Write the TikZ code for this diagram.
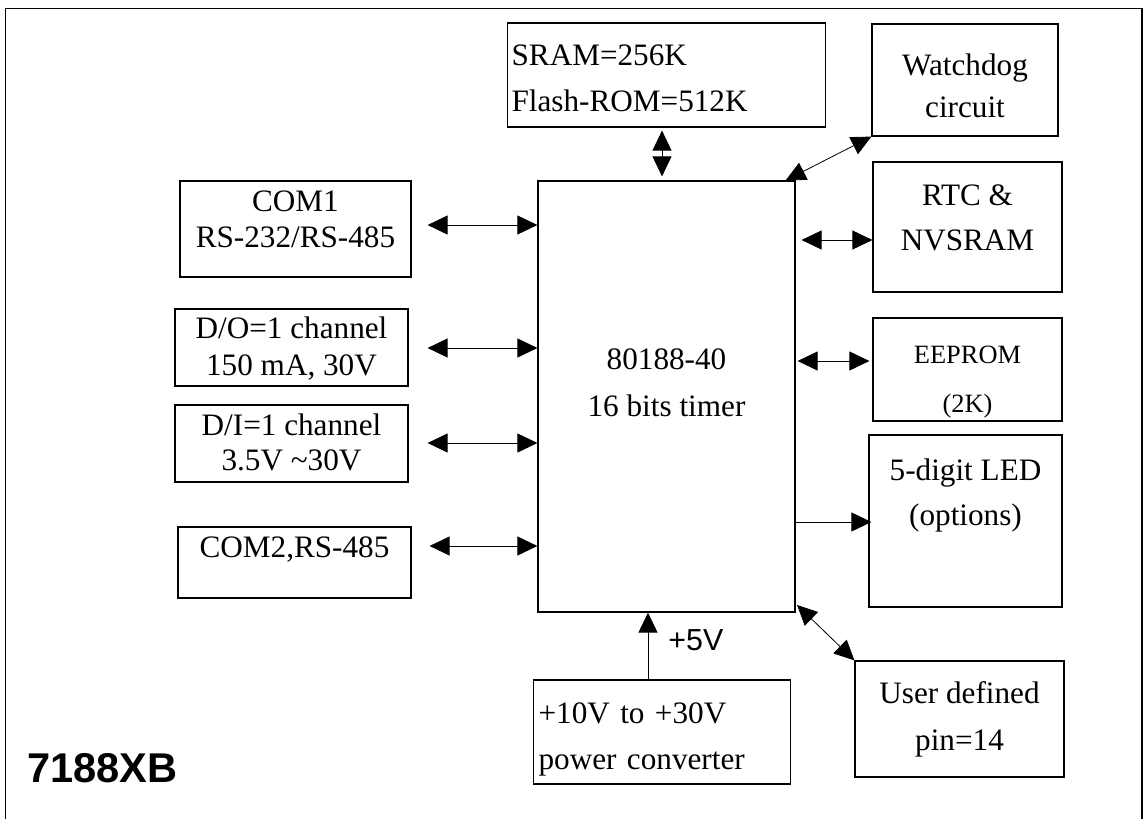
\documentclass[tikz,border=0pt]{standalone}
\usepackage{fontspec}
\setmainfont{Liberation Serif}
\newfontfamily\arialfont{Liberation Sans}
\usetikzlibrary{arrows.meta}
\newcommand{\boxfont}[1]{\fontsize{15.6}{#1}\selectfont}

\begin{document}
\begin{tikzpicture}[x=0.5pt, y=-0.5pt,
        block/.style={draw, line width=0.6pt, inner ysep=0pt, align=center, anchor=base},
        leftblock/.style={draw, line width=0.6pt, inner ysep=0pt, align=left, anchor=base west},
        >={Triangle[length=10pt, width=9.5pt]}
    ]
        \useasboundingbox (0,0) rectangle (1146,819);
        % frame, open at the bottom
        \draw [line width=0.7pt] (5.7,819) -- (5.7,8.3) -- (1142,8.3) -- (1142,819);

        % centred blocks sit on the baseline of their last line
        \node [block, minimum width=128.5pt, text height=117.5pt, text depth=98pt, font=\boxfont{23.5}] (cpu) at (666.5,416) {80188-40\\16 bits timer};
        \node [leftblock, text width=155pt, inner xsep=2pt, text height=21pt, text depth=31pt, font=\boxfont{23.35}] (sram) at (507,65) {SRAM=256K\\Flash-ROM=512K};
        \node [block, minimum width=93pt, text height=46.5pt, text depth=9.5pt, font=\boxfont{20.85}] (watchdog) at (965,117) {Watchdog\\circuit};
        \node [block, minimum width=115.5pt, text height=33pt, text depth=15pt, font=\boxfont{17.75}] (com1) at (295.5,247) {COM1\\RS-232/RS-485};
        \node [block, minimum width=116.5pt, text height=33pt, text depth=5.5pt, font=\boxfont{18.5}] (dout) at (291.5,375) {D/O=1 channel\\150 mA, 30V};
        \node [block, minimum width=116.5pt, text height=32.5pt, text depth=6pt, font=\boxfont{17.5}] (din) at (291.5,470) {D/I=1 channel\\3.5V \textasciitilde30V};
        \node [block, minimum width=116.5pt, text height=15pt, text depth=20.5pt, font=\boxfont{17.5}] (com2) at (294.5,557) {COM2,RS-485};
        \node [block, minimum width=94.5pt, text height=44pt, text depth=21pt, font=\boxfont{22.5}] (rtc) at (967.5,250) {RTC \&\\NVSRAM};
        \node [block, minimum width=94.5pt, text height=47pt, text depth=4.5pt, font=\fontsize{13.2}{24.5}\selectfont] (eeprom) at (967.5,412) {EEPROM\\(2K)};
        \node [block, minimum width=96.5pt, text height=45pt, text depth=41pt, font=\boxfont{22.5}] (led) at (965.5,525) {5-digit LED\\(options)};
        \node [block, minimum width=104.5pt, text height=44.5pt, text depth=13.5pt, font=\boxfont{23.5}] (user) at (959.5,750) {User defined\\pin=14};
        \node [leftblock, text width=123.5pt, inner xsep=2.5pt, text height=21.5pt, text depth=30.5pt, font=\boxfont{23}] (power) at (533,723) {+10V to +30V\\power converter};
        \node [anchor=base west, inner sep=0pt, font=\arialfont\bfseries\fontsize{20.8}{24}\selectfont] (model) at (27,782) {7188XB};

        \draw [<->, shorten <=1.5pt, shorten >=2pt] (662,0 |- sram.south) -- (662,0 |- cpu.north);
        \draw [<->] ([xshift=-5pt]cpu.north east) -- (watchdog.south west);
        \draw [<->, shorten <=8pt] (com1.east |- 0,225) -- (cpu.west |- 0,225);
        \draw [<->, shorten <=9.5pt] (dout.east |- 0,348) -- (cpu.west |- 0,348);
        \draw [<->, shorten <=9.5pt] (din.east |- 0,443) -- (cpu.west |- 0,443);
        \draw [<->, shorten <=9pt] (com2.east |- 0,546) -- (cpu.west |- 0,546);
        \draw [<->, shorten <=3pt] (cpu.east |- 0,240) -- (rtc.west |- 0,240);
        \draw [<->, shorten <=1pt, shorten >=1.5pt] (cpu.east |- 0,361) -- (eeprom.west |- 0,361);
        \draw [->, shorten >=-1.5pt] (cpu.east |- 0,522) -- (led.west |- 0,522);
        \draw [<->, shorten <=1pt] ([yshift=4.5pt]cpu.south east) -- (user.north west);
        \draw [->] (648,0 |- power.north) -- node[pos=0.43, anchor=base west, inner sep=0pt, xshift=10pt, font=\arialfont\fontsize{15.2}{18}\selectfont]{+5V} (648,0 |- cpu.south);
    \end{tikzpicture}
\end{document}
